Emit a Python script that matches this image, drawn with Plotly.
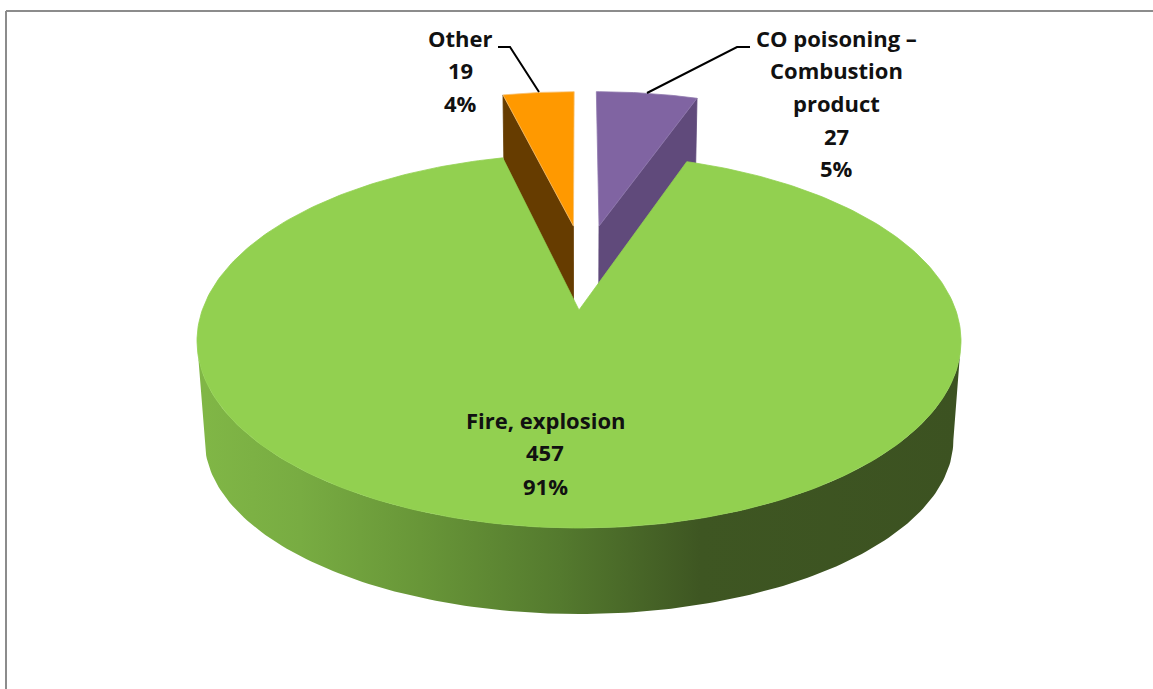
import math
import plotly.graph_objects as go

# ---- data ----
categories = ["CO poisoning – Combustion product", "Fire, explosion", "Other"]
values = [27, 457, 19]
label_lines = [["CO poisoning –", "Combustion", "product"], ["Fire, explosion"], ["Other"]]

total = sum(values)
shares = [v / total for v in values]
percents = [round(s * 100) for s in shares]

# ---- projection of the tilted disc ----
CX, AY = 579.0, 310.0
A, B, K = 376.7, 181.8, 0.166
BOTTOM_SX, BOTTOM_SY, DROP = 0.98, 0.839, 101.0


def project(X, Y, bottom=False):
    w = 1 + K * Y
    if bottom:
        return CX + BOTTOM_SX * A * X / w, AY - BOTTOM_SY * B * Y / w + DROP / w
    return CX + A * X / w, AY - B * Y / w


def rim(theta, dx=0.0, dy=0.0, bottom=False):
    return project(math.sin(theta) + dx, math.cos(theta) + dy, bottom)


def arc(t0, t1, n, dx=0.0, dy=0.0, bottom=False):
    return [rim(t0 + (t1 - t0) * i / n, dx, dy, bottom) for i in range(n + 1)]


def poly(points, color, line=None):
    xs = [p[0] for p in points] + [points[0][0]]
    ys = [p[1] for p in points] + [points[0][1]]
    return go.Scatter(x=xs, y=ys, mode="lines", fill="toself", fillcolor=color,
                      line=dict(color=line or color, width=0.8), hoverinfo="skip",
                      showlegend=False)


fig = go.Figure()

# angular extents from the values: first slice starts at 12 o'clock
co_end = shares[0] * 2 * math.pi
fire_end = co_end + shares[1] * 2 * math.pi
other_end = 2 * math.pi

# exploded CO slice
co_dx, co_dy = 0.0575, 0.50
fig.add_trace(poly([project(co_dx, co_dy), rim(co_end, co_dx, co_dy),
                    rim(co_end, co_dx, co_dy, True), project(co_dx, co_dy, True)], "#604A7B"))
fig.add_trace(poly([project(co_dx, co_dy)] + arc(0, co_end, 30, co_dx, co_dy), "#8064A2", line="#8F78AD"))

# exploded Other slice
ot_dx, ot_dy = -0.016, 0.5
fig.add_trace(poly([project(ot_dx, ot_dy), rim(fire_end, ot_dx, ot_dy),
                    rim(fire_end, ot_dx, ot_dy, True), project(ot_dx, ot_dy, True)], "#663C00"))
fig.add_trace(poly([project(ot_dx, ot_dy)] + arc(fire_end, other_end, 30, ot_dx, ot_dy), "#FF9900", line="#F8C070"))

# Fire wall, one polygon with a left-to-right gradient
x0, x1 = 197.0, 961.0
shade = [(205, "#80B646"), (300, "#78AC42"), (420, "#689638"),
         (560, "#547A2E"), (700, "#3E5622"), (961, "#3C5221")]
stops = [[(x - x0) / (x1 - x0), c] for x, c in shade]
stops = [[0.0, shade[0][1]]] + stops[:-1] + [[1.0, shade[-1][1]]]
t_a, t_b = math.radians(99.6), math.radians(260.4)
wall = arc(t_a, t_b, 160) + arc(t_b, t_a, 160, bottom=True)
xs = [p[0] for p in wall] + [wall[0][0]]
ys = [p[1] for p in wall] + [wall[0][1]]
fig.add_trace(go.Scatter(x=xs, y=ys, mode="lines", fill="toself", line=dict(width=0),
                         fillgradient=dict(type="horizontal", colorscale=stops, start=x0, stop=x1),
                         hoverinfo="skip", showlegend=False))

# Fire top face
fig.add_trace(poly([project(0, 0)] + arc(co_end, fire_end, 300), "#92D050"))

# ---- labels ----
font = dict(family="Open Sans", size=22, color="#111111")
label_x = [836, 545, 460]
label_y = [[38, 70, 103, 136, 168], [420, 452, 486], [38, 70, 103]]
for j in range(3):
    lines = label_lines[j] + [str(values[j]), f"{percents[j]}%"]
    for text, y in zip(lines, label_y[j]):
        fig.add_annotation(x=label_x[j], y=y, text=f"<b>{text}</b>", showarrow=False,
                           xanchor="center", yanchor="middle", font=font)

# ---- leader lines ----
for lx, ly in [([498, 510, 539], [47, 47, 92]), ([750, 737, 647], [47, 47, 93])]:
    fig.add_trace(go.Scatter(x=lx, y=ly, mode="lines", line=dict(color="#000000", width=2),
                             hoverinfo="skip", showlegend=False))

# ---- chart frame ----
fig.add_shape(type="line", x0=6, x1=6, y0=11, y1=689, line=dict(color="#8C8C8C", width=2))
fig.add_shape(type="line", x0=6, x1=1153, y0=11, y1=11, line=dict(color="#8C8C8C", width=2))

fig.update_xaxes(range=[0, 1153], visible=False, fixedrange=True)
fig.update_yaxes(range=[689, 0], visible=False, fixedrange=True)
fig.update_layout(width=1153, height=689, margin=dict(l=0, r=0, t=0, b=0),
                  paper_bgcolor="white", plot_bgcolor="white", showlegend=False)

fig.write_html("out.html", config={"displayModeBar": False},
               post_script="document.body.style.margin='0';document.body.style.overflow='hidden';")
